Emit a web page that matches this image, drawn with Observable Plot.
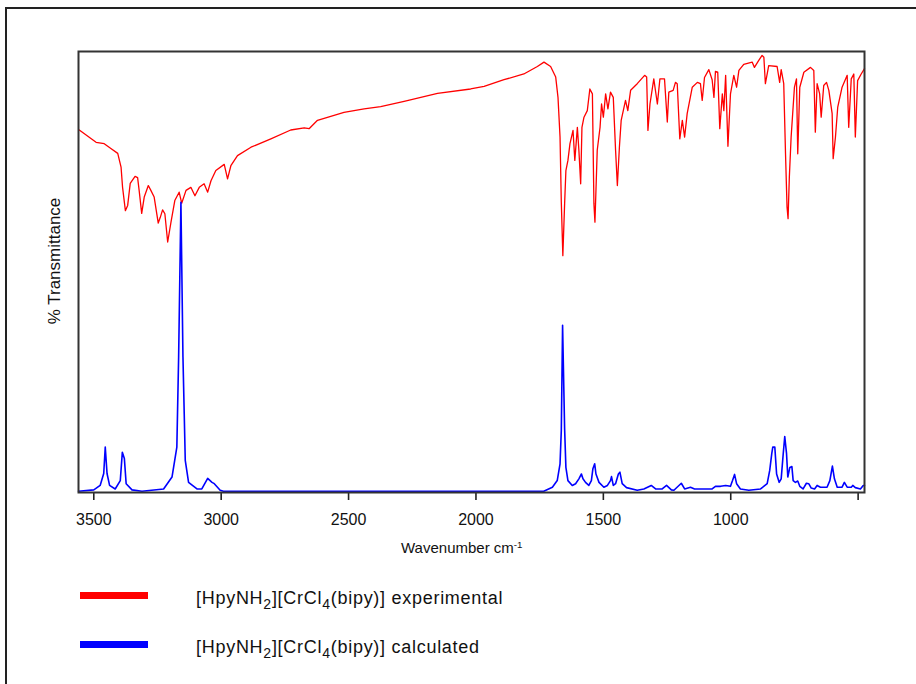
<!DOCTYPE html>
<html>
<head>
<meta charset="utf-8">
<script src="https://cdn.jsdelivr.net/npm/d3@7"></script>
<script src="https://cdn.jsdelivr.net/npm/@observablehq/plot@0.6"></script>
<style>
  html, body { margin: 0; padding: 0; background: #fff; }
  body { font-family: "Liberation Sans", Arial, sans-serif; color: #111; }
  #wrap { position: relative; width: 916px; height: 684px; overflow: hidden; }
  #border { position: absolute; left: 5px; top: 7px; width: 1000px; height: 800px;
            border-left: 2px solid #222; border-top: 2px solid #222; }
  #chart { position: absolute; left: 0; top: 0; }
  .xlab { position: absolute; left: 401px; top: 539px; font-size: 15px; white-space: nowrap; }
  .xlab sup { font-size: 0.65em; vertical-align: 0.55em; line-height: 0; }
  .ylab { position: absolute; left: 55px; top: 261px; font-size: 17px; white-space: nowrap;
          transform: translate(-50%, -50%) rotate(-90deg); }
  .leg { position: absolute; left: 0; width: 916px; height: 30px; }
  .leg .sw { position: absolute; left: 80px; width: 68px; height: 7px; }
  .leg .tx { position: absolute; left: 196px; font-size: 18px; letter-spacing: 0.72px; white-space: nowrap; }
  .leg sub { font-size: 0.78em; vertical-align: -0.35em; line-height: 0; }
</style>
</head>
<body>
<div id="wrap">
  <div id="border"></div>
  <div id="chart"></div>
  <div class="xlab">Wavenumber cm<sup>-1</sup></div>
  <div class="ylab">% Transmittance</div>
  <div id="legend"></div>
</div>
<script>
// ---- x axis ticks ----
const tickValues = [3500, 3000, 2500, 2000, 1500, 1000, 500];
const tickLabels = ["3500", "3000", "2500", "2000", "1500", "1000", ""];

// ---- experimental spectrum (red): wavenumber (cm-1) and % transmittance ----
const expWavenumber = [
  3557, 3491, 3459, 3433, 3406, 3393, 3387, 3376, 3367, 3357,
  3338, 3328, 3322, 3312, 3302, 3286, 3276, 3263, 3247, 3239,
  3230, 3221, 3210, 3197, 3182, 3165, 3155, 3138, 3119, 3103,
  3086, 3067, 3053, 3040, 3021, 2988, 2975, 2962, 2936, 2883,
  2805, 2727, 2674, 2655, 2622, 2518, 2439, 2374, 2282, 2151,
  2021, 1968, 1890, 1812, 1759, 1733, 1707, 1687, 1678, 1670,
  1665, 1659, 1652, 1647, 1639, 1631, 1619, 1612, 1602, 1596,
  1589, 1584, 1576, 1563, 1553, 1543, 1537, 1533, 1524, 1513,
  1507, 1500, 1491, 1482, 1472, 1461, 1452, 1445, 1437, 1430,
  1413, 1404, 1393, 1367, 1338, 1330, 1325, 1317, 1302, 1288,
  1278, 1260, 1249, 1243, 1226, 1217, 1210, 1200, 1190, 1181,
  1171, 1151, 1131, 1119, 1112, 1103, 1086, 1073, 1066, 1060,
  1051, 1043, 1033, 1027, 1020, 1011, 1001, 988, 977, 968,
  949, 916, 907, 890, 877, 870, 864, 851, 818, 808,
  802, 792, 785, 779, 775, 770, 763, 750, 742, 737,
  729, 713, 687, 674, 668, 661, 651, 645, 635, 624,
  615, 602, 598, 589, 580, 563, 543, 537, 527, 517,
  511, 502, 488, 475
];
const expTransmittance = [
  82.2, 79.4, 79.1, 78.0, 76.9, 73.8, 69.2, 63.9, 65.1, 70.1,
  71.7, 71.4, 68.5, 63.3, 67.0, 69.6, 68.5, 67.0, 61.1, 62.4,
  64.1, 63.2, 56.8, 61.3, 66.2, 68.1, 65.6, 68.5, 69.2, 67.3,
  69.2, 70.0, 68.1, 70.7, 73.0, 74.4, 71.1, 74.1, 76.4, 78.3,
  80.2, 82.2, 82.7, 82.5, 84.4, 86.2, 87.0, 87.5, 88.7, 90.5,
  91.5, 92.1, 93.6, 94.9, 96.6, 97.6, 96.6, 94.2, 89.6, 80.6,
  65.8, 53.7, 65.5, 73.0, 75.3, 79.1, 82.1, 75.3, 82.8, 77.6,
  70.0, 82.8, 85.1, 86.6, 91.5, 90.4, 65.5, 61.3, 77.6, 82.8,
  88.1, 85.1, 90.4, 87.0, 90.8, 89.6, 77.6, 69.6, 78.3, 84.4,
  88.9, 86.6, 91.2, 92.7, 94.6, 94.2, 82.1, 88.1, 93.8, 88.1,
  93.8, 93.8, 84.0, 90.8, 91.2, 93.0, 92.7, 80.2, 84.4, 80.6,
  85.9, 91.9, 93.0, 92.7, 88.9, 94.1, 95.9, 93.6, 89.6, 95.5,
  95.3, 82.5, 90.4, 86.6, 94.6, 78.5, 90.4, 94.6, 91.9, 95.7,
  97.1, 97.6, 96.4, 98.0, 99.1, 98.7, 92.7, 96.8, 96.6, 93.0,
  95.9, 92.7, 76.8, 64.7, 62.1, 71.5, 80.6, 91.9, 93.8, 76.8,
  91.9, 95.3, 96.4, 95.7, 81.7, 92.7, 90.4, 85.1, 92.3, 93.0,
  91.2, 85.9, 75.7, 80.6, 87.4, 91.9, 94.6, 82.8, 93.8, 94.9,
  80.6, 93.4, 94.9, 96.1
];

// ---- calculated spectrum (blue): wavenumber (cm-1) and intensity (same scale) ----
const calcWavenumber = [
  3560, 3500, 3475, 3461, 3455, 3448, 3438, 3416, 3396, 3388,
  3380, 3373, 3350, 3311, 3226, 3193, 3174, 3167, 3158, 3150,
  3145, 3141, 3128, 3095, 3076, 3053, 3036, 3027, 3004, 2991,
  1734, 1700, 1681, 1670, 1665, 1660, 1652, 1647, 1639, 1622,
  1609, 1596, 1586, 1580, 1570, 1557, 1547, 1541, 1534, 1529,
  1517, 1498, 1484, 1472, 1468, 1461, 1452, 1441, 1435, 1426,
  1409, 1367, 1341, 1312, 1295, 1269, 1252, 1233, 1223, 1194,
  1181, 1158, 1142, 1073, 1060, 1040, 1020, 1001, 993, 985,
  977, 962, 929, 883, 857, 847, 839, 835, 827, 820,
  810, 802, 794, 788, 781, 776, 768, 760, 755, 746,
  737, 729, 716, 703, 694, 684, 671, 661, 648, 622,
  611, 601, 593, 582, 563, 554, 543, 527, 521, 511,
  491, 480, 475
];
const calcIntensity = [
  0.3, 0.6, 1.6, 4.3, 10.3, 4.3, 1.6, 0.8, 2.7, 9.1,
  7.7, 2.0, 0.6, 0.3, 0.8, 3.5, 10.3, 30.7, 65.8, 30.7,
  17.8, 7.3, 2.3, 0.8, 0.8, 3.2, 2.3, 2.0, 0.5, 0.3,
  0.3, 1.2, 2.7, 6.5, 14.1, 37.9, 14.4, 5.7, 2.7, 1.6,
  2.0, 3.1, 4.2, 3.1, 2.3, 1.6, 2.7, 5.4, 6.5, 4.2,
  2.3, 1.2, 1.6, 2.7, 3.6, 1.6, 2.0, 4.2, 4.6, 2.0,
  1.1, 0.5, 0.8, 1.6, 0.8, 0.8, 1.6, 0.6, 0.5, 2.1,
  0.8, 1.2, 0.8, 0.8, 1.4, 1.4, 1.6, 1.4, 2.7, 4.1,
  2.0, 0.8, 0.5, 0.8, 2.0, 5.0, 8.8, 10.3, 10.3, 4.2,
  2.3, 3.1, 8.8, 12.7, 8.8, 3.5, 5.7, 5.9, 2.7, 2.3,
  2.6, 1.4, 0.8, 2.1, 2.0, 1.0, 0.8, 1.6, 1.2, 1.2,
  2.7, 6.0, 3.1, 1.2, 1.2, 2.3, 1.2, 1.2, 1.6, 1.1,
  0.8, 1.6, 1.6
];

// ---- legend ----
const seriesNames = ["experimental", "calculated"];
const seriesColors = ["#ff0000", "#0000ff"];

const expData = expWavenumber.map((w, i) => ({w, v: expTransmittance[i]}));
const calcData = calcWavenumber.map((w, i) => ({w, v: calcIntensity[i]}));

const chart = Plot.plot({
  width: 916,
  height: 560,
  marginLeft: 78,
  marginRight: 52,
  marginTop: 51,
  marginBottom: 68,
  style: {fontFamily: "'Liberation Sans', Arial, sans-serif", fontSize: "16px", color: "#111", background: "transparent", overflow: "visible"},
  x: {domain: [3560, 475]},
  y: {domain: [0, 100], axis: null},
  marks: [
    Plot.axisX(tickValues, {
      tickSize: 8,
      tickPadding: 13,
      strokeWidth: 1.6,
      stroke: "#222",
      fill: "#111",
      tickFormat: d => tickLabels[tickValues.indexOf(d)],
      label: null
    }),
    Plot.line(expData, {x: "w", y: "v", stroke: seriesColors[0], strokeWidth: 1.3}),
    Plot.line(calcData, {x: "w", y: "v", stroke: seriesColors[1], strokeWidth: 1.6}),
    Plot.frame({stroke: "#333", strokeWidth: 2})
  ]
});
document.getElementById("chart").appendChild(chart);

const legend = document.getElementById("legend");
const tops = [592, 641];
seriesNames.forEach((name, i) => {
  const row = document.createElement("div");
  row.className = "leg";
  row.style.top = tops[i] + "px";
  row.innerHTML = `<div class="sw" style="top:0px;background:${seriesColors[i]}"></div>` +
    `<div class="tx" style="top:-4px">[HpyNH<sub>2</sub>][CrCl<sub>4</sub>(bipy)] ${name}</div>`;
  legend.appendChild(row);
});
</script>
</body>
</html>
